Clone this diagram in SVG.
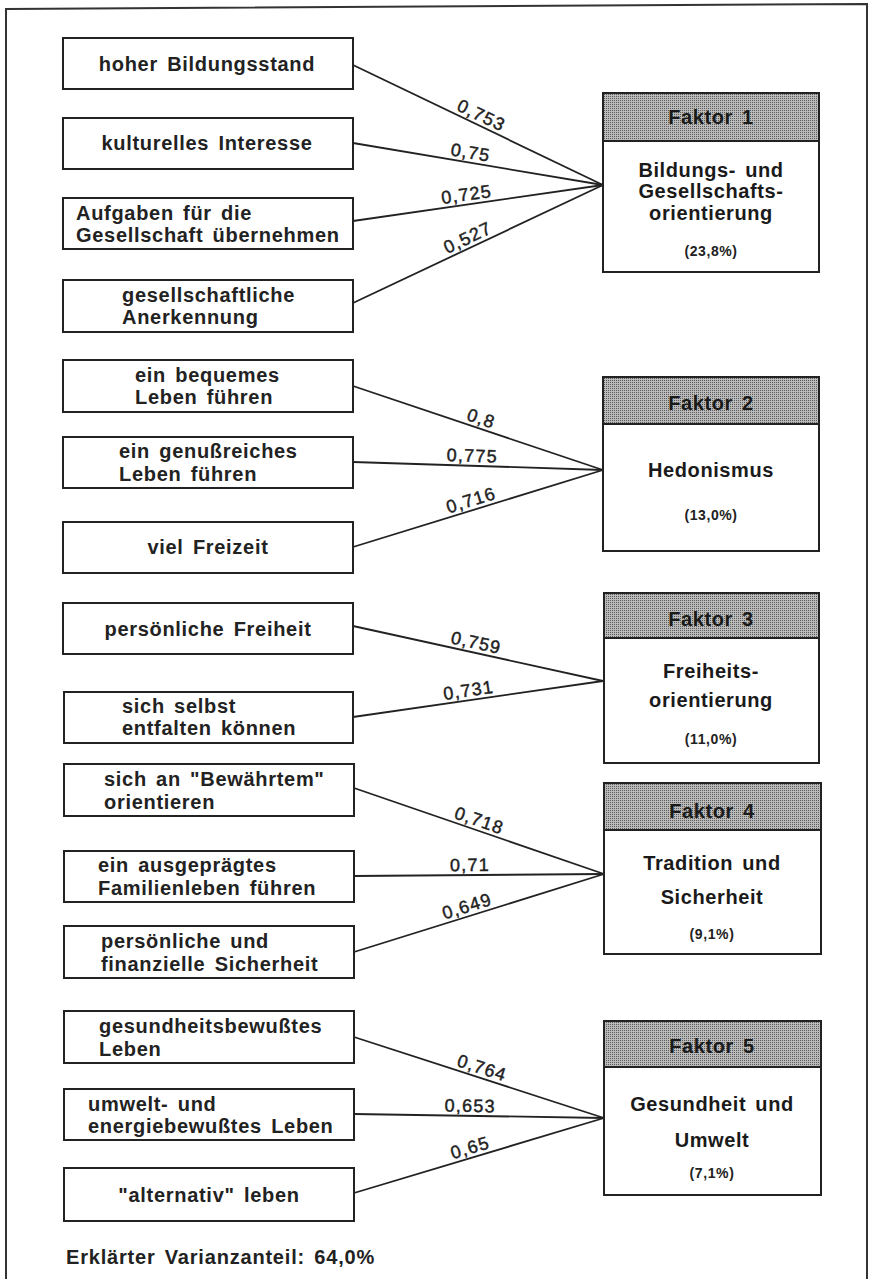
<svg xmlns="http://www.w3.org/2000/svg" width="871" height="1279" viewBox="0 0 871 1279">
<defs>
<pattern id="dots" width="2" height="2" patternUnits="userSpaceOnUse">
<rect width="2" height="2" fill="#bababa"/>
<rect width="1" height="1" fill="#5a5a5a"/>
</pattern>
<style>
.box{fill:#fff;stroke:#222;stroke-width:2}
.hdr{fill:url(#dots);stroke:#222;stroke-width:2}
.t{font-family:"Liberation Sans",Arial,sans-serif;font-weight:bold;font-size:20px;letter-spacing:0.7px;word-spacing:3px;fill:#222}
.c{text-anchor:middle}
.h{font-family:"Liberation Sans",Arial,sans-serif;font-weight:bold;font-size:20px;letter-spacing:0.6px;word-spacing:3px;fill:#1a1a1a;text-anchor:middle}
.p{font-family:"Liberation Sans",Arial,sans-serif;font-weight:bold;font-size:14px;letter-spacing:0.6px;fill:#222;text-anchor:middle}
.lbl{font-family:"Liberation Sans",Arial,sans-serif;font-size:18px;letter-spacing:1.2px;fill:#222;stroke:#222;stroke-width:0.45;text-anchor:middle}
.ln{stroke:#222;stroke-width:1.8;fill:none}
</style>
</defs>
<rect width="871" height="1279" fill="#fff"/>
<path d="M6,1279 L6,9 L867,4 L867,1279" fill="none" stroke="#333" stroke-width="2"/>

<g id="connectors">
<line class="ln" x1="353" y1="65" x2="603" y2="185"/>
<line class="ln" x1="353" y1="143" x2="603" y2="185"/>
<line class="ln" x1="353" y1="221" x2="603" y2="185"/>
<line class="ln" x1="353" y1="303" x2="603" y2="185"/>
<line class="ln" x1="353" y1="386" x2="603" y2="470"/>
<line class="ln" x1="353" y1="462" x2="603" y2="470"/>
<line class="ln" x1="353" y1="547" x2="603" y2="470"/>
<line class="ln" x1="353" y1="626" x2="603" y2="681"/>
<line class="ln" x1="353" y1="717" x2="603" y2="681"/>
<line class="ln" x1="354" y1="788" x2="604" y2="874"/>
<line class="ln" x1="354" y1="876" x2="604" y2="874"/>
<line class="ln" x1="354" y1="952" x2="604" y2="874"/>
<line class="ln" x1="354" y1="1037" x2="604" y2="1118"/>
<line class="ln" x1="354" y1="1114" x2="604" y2="1118"/>
<line class="ln" x1="354" y1="1193" x2="604" y2="1118"/>
<g transform="translate(477,124.5) rotate(25.6)"><text class="lbl" x="0" y="-4">0,753</text></g>
<g transform="translate(469,162.5) rotate(9.5)"><text class="lbl" x="0" y="-4">0,75</text></g>
<g transform="translate(468,204.4) rotate(-8.2)"><text class="lbl" x="0" y="-4">0,725</text></g>
<g transform="translate(472,246.8) rotate(-25.3)"><text class="lbl" x="0" y="-4">0,527</text></g>
<g transform="translate(478,428) rotate(18.6)"><text class="lbl" x="0" y="-4">0,8</text></g>
<g transform="translate(472,465.8) rotate(1.8)"><text class="lbl" x="0" y="-4">0,775</text></g>
<g transform="translate(474,509.7) rotate(-17.1)"><text class="lbl" x="0" y="-4">0,716</text></g>
<g transform="translate(474,652.6) rotate(12.4)"><text class="lbl" x="0" y="-4">0,759</text></g>
<g transform="translate(470,700.2) rotate(-8.2)"><text class="lbl" x="0" y="-4">0,731</text></g>
<g transform="translate(476,830) rotate(19)"><text class="lbl" x="0" y="-4">0,718</text></g>
<g transform="translate(470,875) rotate(-0.5)"><text class="lbl" x="0" y="-4">0,71</text></g>
<g transform="translate(470,915.8) rotate(-17.3)"><text class="lbl" x="0" y="-4">0,649</text></g>
<g transform="translate(479,1077.5) rotate(18)"><text class="lbl" x="0" y="-4">0,764</text></g>
<g transform="translate(470,1116) rotate(0.9)"><text class="lbl" x="0" y="-4">0,653</text></g>
<g transform="translate(473,1157.3) rotate(-16.7)"><text class="lbl" x="0" y="-4">0,65</text></g>
</g>

<g id="v1"><rect class="box" x="63" y="38" width="290" height="51"/><text class="t c" x="207" y="71">hoher Bildungsstand</text></g>
<g id="v2"><rect class="box" x="63" y="118" width="290" height="51"/><text class="t c" x="207" y="150">kulturelles Interesse</text></g>
<g id="v3"><rect class="box" x="63" y="198" width="290" height="51"/><text class="t" x="76" y="220">Aufgaben für die</text><text class="t" x="76" y="242">Gesellschaft übernehmen</text></g>
<g id="v4"><rect class="box" x="63" y="280" width="290" height="52"/><text class="t" x="122" y="302">gesellschaftliche</text><text class="t" x="122" y="324">Anerkennung</text></g>
<g id="v5"><rect class="box" x="63" y="360" width="290" height="52"/><text class="t" x="135" y="382">ein bequemes</text><text class="t" x="135" y="404">Leben führen</text></g>
<g id="v6"><rect class="box" x="63" y="437" width="290" height="51"/><text class="t" x="119" y="458">ein genußreiches</text><text class="t" x="119" y="481">Leben führen</text></g>
<g id="v7"><rect class="box" x="63" y="522" width="290" height="51"/><text class="t c" x="208" y="554">viel Freizeit</text></g>
<g id="v8"><rect class="box" x="63" y="603" width="290" height="51"/><text class="t c" x="208" y="636">persönliche Freiheit</text></g>
<g id="v9"><rect class="box" x="64" y="692" width="289" height="51"/><text class="t" x="122" y="713">sich selbst</text><text class="t" x="122" y="735">entfalten können</text></g>
<g id="v10"><rect class="box" x="64" y="764" width="290" height="52"/><text class="t" x="104" y="786">sich an "Bewährtem"</text><text class="t" x="104" y="809">orientieren</text></g>
<g id="v11"><rect class="box" x="64" y="851" width="290" height="51"/><text class="t" x="98" y="872">ein ausgeprägtes</text><text class="t" x="98" y="895">Familienleben führen</text></g>
<g id="v12"><rect class="box" x="64" y="926" width="290" height="52"/><text class="t" x="101" y="948">persönliche und</text><text class="t" x="101" y="971">finanzielle Sicherheit</text></g>
<g id="v13"><rect class="box" x="64" y="1011" width="290" height="52"/><text class="t" x="99" y="1033">gesundheitsbewußtes</text><text class="t" x="99" y="1056">Leben</text></g>
<g id="v14"><rect class="box" x="64" y="1089" width="290" height="51"/><text class="t" x="88" y="1111">umwelt- und</text><text class="t" x="88" y="1133">energiebewußtes Leben</text></g>
<g id="v15"><rect class="box" x="64" y="1168" width="290" height="53"/><text class="t c" x="209" y="1202">"alternativ" leben</text></g>

<g id="f1"><rect class="box" x="603" y="93" width="216" height="179"/><rect class="hdr" x="603" y="93" width="216" height="48"/><text class="h" x="711" y="124">Faktor 1</text><text class="h" x="711" y="177">Bildungs- und</text><text class="h" x="711" y="198">Gesellschafts-</text><text class="h" x="711" y="220">orientierung</text><text class="p" x="711" y="256">(23,8%)</text></g>
<g id="f2"><rect class="box" x="603" y="377" width="216" height="174"/><rect class="hdr" x="603" y="377" width="216" height="47"/><text class="h" x="711" y="410">Faktor 2</text><text class="h" x="711" y="477">Hedonismus</text><text class="p" x="711" y="520">(13,0%)</text></g>
<g id="f3"><rect class="box" x="604" y="593" width="215" height="170"/><rect class="hdr" x="604" y="593" width="215" height="45"/><text class="h" x="711" y="626">Faktor 3</text><text class="h" x="711" y="678">Freiheits-</text><text class="h" x="711" y="707">orientierung</text><text class="p" x="711" y="744">(11,0%)</text></g>
<g id="f4"><rect class="box" x="604" y="783" width="217" height="171"/><rect class="hdr" x="604" y="783" width="217" height="47"/><text class="h" x="712" y="818">Faktor 4</text><text class="h" x="712" y="870">Tradition und</text><text class="h" x="712" y="904">Sicherheit</text><text class="p" x="712" y="939">(9,1%)</text></g>
<g id="f5"><rect class="box" x="604" y="1021" width="217" height="174"/><rect class="hdr" x="604" y="1021" width="217" height="46"/><text class="h" x="712" y="1053">Faktor 5</text><text class="h" x="712" y="1111">Gesundheit und</text><text class="h" x="712" y="1147">Umwelt</text><text class="p" x="712" y="1178">(7,1%)</text></g>

<text class="t" x="66" y="1264" style="letter-spacing:0.8px">Erklärter Varianzanteil: 64,0%</text>
</svg>
